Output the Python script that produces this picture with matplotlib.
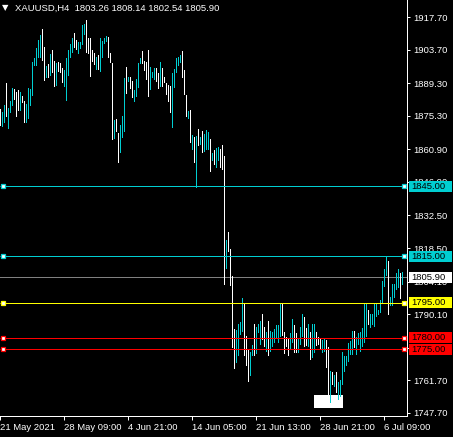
import matplotlib
matplotlib.use('Agg')
import matplotlib.pyplot as plt
import numpy as np
from matplotlib.patches import Rectangle
from matplotlib.transforms import blended_transform_factory

# H4 bars (high / low), bull = close above open
symbol = 'XAUUSD,H4'
last_ohlc = [1803.26, 1808.14, 1802.54, 1805.90]

highs = [1878.1, 1877.0, 1879.9, 1889.5, 1878.5, 1881.6, 1887.1, 1886.7, 1885.6, 1886.4,
         1885.6, 1883.8, 1881.6, 1880.3, 1887.1, 1886.8, 1898.2, 1900.0, 1904.4, 1907.8,
         1910.0, 1912.4, 1905.0, 1896.7, 1897.4, 1901.8, 1903.5, 1898.8, 1898.1, 1898.5,
         1898.1, 1895.7, 1894.9, 1900.0, 1903.5, 1906.1, 1908.6, 1910.7, 1907.8, 1906.8,
         1907.1, 1914.3, 1914.6, 1916.4, 1908.8, 1908.8, 1903.5, 1902.1, 1900.7, 1901.4,
         1908.8, 1907.4, 1908.8, 1909.7, 1909.2, 1902.1, 1898.1, 1873.3, 1873.8, 1867.8,
         1871.3, 1875.2, 1891.4, 1896.4, 1892.1, 1892.1, 1890.2, 1886.4, 1891.1, 1897.8,
         1900.0, 1903.1, 1898.8, 1898.5, 1903.5, 1896.4, 1894.2, 1895.9, 1895.7, 1893.5,
         1898.5, 1895.9, 1892.1, 1889.5, 1888.5, 1888.1, 1893.8, 1895.2, 1900.0, 1900.4,
         1901.4, 1903.2, 1894.9, 1884.2, 1877.5, 1877.8, 1867.0, 1866.3, 1866.6, 1869.5,
         1866.3, 1868.9, 1867.3, 1869.2, 1868.3, 1865.2, 1859.4, 1860.6, 1861.3, 1861.8,
         1860.9, 1862.7, 1858.0, 1821.9, 1825.5, 1818.1, 1806.5, 1783.7, 1783.3, 1785.9,
         1786.9, 1796.9, 1794.8, 1780.7, 1774.7, 1774.0, 1776.9, 1785.9, 1784.7, 1785.9,
         1787.3, 1790.2, 1784.7, 1782.6, 1787.3, 1783.0, 1782.6, 1783.6, 1785.4, 1785.4,
         1794.8, 1794.8, 1782.6, 1780.4, 1779.7, 1782.1, 1788.0, 1785.4, 1781.9, 1779.7,
         1784.7, 1790.2, 1789.0, 1784.0, 1785.9, 1782.6, 1785.9, 1785.9, 1782.6, 1780.2,
         1779.7, 1779.0, 1779.7, 1779.0, 1776.1, 1765.7, 1765.4, 1764.0, 1765.4, 1761.1,
         1761.8, 1774.0, 1772.1, 1772.1, 1777.6, 1778.7, 1782.9, 1782.9, 1780.4, 1781.9,
         1782.6, 1784.0, 1794.8, 1794.5, 1791.9, 1790.2, 1790.0, 1794.8, 1794.5, 1791.9,
         1796.2, 1804.3, 1809.4, 1814.8, 1813.1, 1797.6, 1803.1, 1803.1, 1807.9, 1809.5,
         1807.6, 1808.14]

lows = [1870.9, 1870.3, 1872.1, 1874.9, 1869.6, 1876.6, 1879.5, 1882.1, 1874.9, 1877.5,
        1877.3, 1880.9, 1872.3, 1872.3, 1873.9, 1879.5, 1883.8, 1896.7, 1896.7, 1900.2,
        1900.0, 1898.8, 1890.2, 1891.6, 1891.6, 1892.4, 1893.8, 1887.8, 1888.1, 1894.2,
        1893.5, 1889.5, 1887.8, 1881.6, 1892.4, 1900.0, 1902.4, 1904.3, 1903.5, 1901.8,
        1903.8, 1905.7, 1910.0, 1902.1, 1901.7, 1892.1, 1898.5, 1897.1, 1894.9, 1894.9,
        1894.2, 1900.2, 1906.0, 1907.1, 1900.2, 1898.1, 1864.9, 1865.2, 1868.5, 1854.9,
        1859.2, 1865.6, 1868.5, 1884.5, 1889.9, 1886.8, 1883.0, 1881.3, 1883.5, 1887.3,
        1897.4, 1897.4, 1894.5, 1890.6, 1883.5, 1886.4, 1891.4, 1890.6, 1889.9, 1886.8,
        1887.8, 1887.8, 1889.2, 1884.2, 1881.3, 1876.3, 1869.9, 1887.1, 1893.5, 1896.7,
        1897.8, 1891.4, 1884.2, 1874.6, 1873.8, 1863.7, 1860.6, 1854.9, 1844.1, 1862.3,
        1862.7, 1859.2, 1859.9, 1860.6, 1860.6, 1851.3, 1856.0, 1854.2, 1852.7, 1856.0,
        1852.7, 1852.0, 1802.6, 1809.5, 1816.9, 1802.2, 1775.4, 1766.5, 1769.3, 1772.1,
        1781.2, 1782.3, 1772.1, 1767.8, 1760.8, 1763.5, 1772.1, 1772.1, 1773.0, 1782.1,
        1776.9, 1779.0, 1776.1, 1774.0, 1772.1, 1774.0, 1776.1, 1777.6, 1779.7, 1777.8,
        1780.4, 1780.7, 1773.0, 1776.1, 1772.3, 1775.1, 1777.6, 1773.3, 1773.5, 1773.3,
        1776.9, 1780.4, 1775.9, 1776.4, 1776.1, 1770.4, 1771.1, 1773.3, 1776.4, 1776.9,
        1774.7, 1773.3, 1774.0, 1766.9, 1752.5, 1751.8, 1759.7, 1759.0, 1756.1, 1753.2,
        1754.7, 1759.7, 1765.4, 1767.8, 1769.7, 1772.6, 1772.6, 1775.4, 1772.6, 1776.9,
        1774.0, 1776.1, 1777.6, 1780.4, 1785.4, 1784.3, 1785.4, 1784.5, 1789.0, 1789.7,
        1790.5, 1794.5, 1801.9, 1806.5, 1789.7, 1793.6, 1793.6, 1796.9, 1800.5, 1801.2,
        1796.5, 1802.54]

bull = [0, 1, 1, 0, 1, 1, 1, 0, 0, 0,
        1, 0, 0, 1, 1, 1, 1, 1, 1, 1,
        1, 0, 0, 1, 0, 1, 0, 0, 1, 0,
        0, 0, 1, 1, 1, 1, 1, 0, 0, 1,
        1, 1, 1, 0, 0, 0, 0, 0, 1, 0,
        1, 1, 1, 1, 0, 0, 0, 1, 0, 0,
        1, 1, 1, 0, 1, 0, 0, 1, 1, 1,
        1, 0, 0, 0, 0, 1, 1, 1, 0, 0,
        1, 0, 0, 0, 0, 0, 1, 1, 1, 1,
        1, 0, 0, 0, 1, 0, 1, 0, 1, 0,
        1, 0, 1, 1, 1, 0, 1, 0, 1, 1,
        0, 0, 0, 1, 0, 0, 0, 0, 1, 1,
        1, 1, 0, 0, 0, 1, 1, 0, 1, 1,
        1, 0, 0, 1, 0, 1, 1, 1, 1, 1,
        1, 0, 0, 0, 0, 1, 1, 0, 0, 1,
        1, 1, 0, 0, 1, 0, 1, 1, 0, 0,
        0, 1, 1, 0, 0, 1, 0, 1, 0, 1,
        1, 1, 1, 1, 1, 1, 1, 0, 1, 1,
        1, 1, 1, 1, 0, 1, 1, 1, 1, 1,
        1, 1, 1, 1, 0, 1, 1, 1, 1, 1,
        0, 1]

level_prices = [1845.00, 1815.00, 1795.00, 1780.00, 1775.00]
level_colors = ['#00CED1', '#00CED1', '#FFFF00', '#FF0000', '#FF0000']

price_ticks = [1917.70, 1903.70, 1889.30, 1875.30, 1860.90, 1846.90, 1832.50,
               1818.50, 1804.10, 1790.10, 1775.70, 1761.70, 1747.70]
date_pos = [0, 32, 64, 96, 128, 160, 192]
date_labels = ['21 May 2021', '28 May 09:00', '4 Jun 21:00', '14 Jun 05:00',
               '21 Jun 13:00', '28 Jun 21:00', '6 Jul 09:00']

plt.rcParams['font.family'] = ['Liberation Sans', 'DejaVu Sans']
fs = 6.8
px = 0.72  # one pixel in points at dpi 100
up_col = '#00CED1'

fig = plt.figure(figsize=(4.53, 4.37), dpi=100, facecolor='black')
ax = fig.add_axes([0, 21 / 437, 407 / 453, 416 / 437])
ax.set_facecolor('black')

x = np.arange(len(highs))
hi = np.array(highs)
lo = np.array(lows)
cols = [up_col if b else 'white' for b in bull]

# last price line under the bars
ax.axhline(last_ohlc[3], color='#808080', lw=px, zorder=1)

# white marker box under the lowest bar
imin = int(np.argmin(lows))
ax.add_patch(Rectangle((imin - 8.5, lows[imin] - 2.0), 14.5, 5.6,
                       facecolor='white', edgecolor='none', zorder=1))

# one pixel wide high-low bars (half a bar step = 1 px)
ax.bar(x, hi - lo, bottom=lo, width=0.5, color=cols, linewidth=0,
       antialiased=False, zorder=2)

# horizontal levels with small handles at both ends
for p, c in zip(level_prices, level_colors):
    ax.hlines(p, -0.25, 201.7, color=c, lw=px, zorder=3)
    ax.plot([1, 201.7], [p, p], 's', ms=3.4, mfc='white', mec=c, mew=0.9,
            zorder=4, clip_on=False)

ax.set_xlim(-0.25, 203.25)
ax.set_ylim(1746.4, 1925.0)

for s in ['top', 'left']:
    ax.spines[s].set_visible(False)
for s in ['right', 'bottom']:
    ax.spines[s].set_color('white')
    ax.spines[s].set_linewidth(px)

ax.yaxis.tick_right()
ax.set_yticks(price_ticks)
ax.set_yticklabels(['%.2f' % v for v in price_ticks])
ax.tick_params(axis='y', colors='white', length=2.2, width=px, pad=2.5, labelsize=fs)

ax.set_xticks([p - 0.25 for p in date_pos])
ax.set_xticklabels(date_labels, ha='left')
ax.tick_params(axis='x', colors='white', length=3, width=px, pad=2, labelsize=fs)

# price labels on the right scale
tr = blended_transform_factory(ax.transAxes, ax.transData)
tags = list(zip(level_prices, level_colors)) + [(last_ohlc[3], 'white')]
for p, c in tags:
    ax.add_patch(Rectangle((409 / 407, p - 2.4), 43 / 407, 4.8, transform=tr,
                           facecolor=c, edgecolor='none', zorder=5, clip_on=False))
    ax.text(411 / 407, p, '%.2f' % p, transform=tr, color='black', fontsize=fs,
            va='center', ha='left', zorder=6, clip_on=False)

# header
fig.text(2 / 453, 1 - 8 / 437, '\u25bc', color='white', fontsize=6,
         va='center', ha='left', family='DejaVu Sans')
fig.text(15 / 453, 1 - 8 / 437, symbol + '  ' + ' '.join('%.2f' % v for v in last_ohlc),
         color='white', fontsize=fs, va='center', ha='left')

fig.savefig('out.png', dpi=100, facecolor='black')
